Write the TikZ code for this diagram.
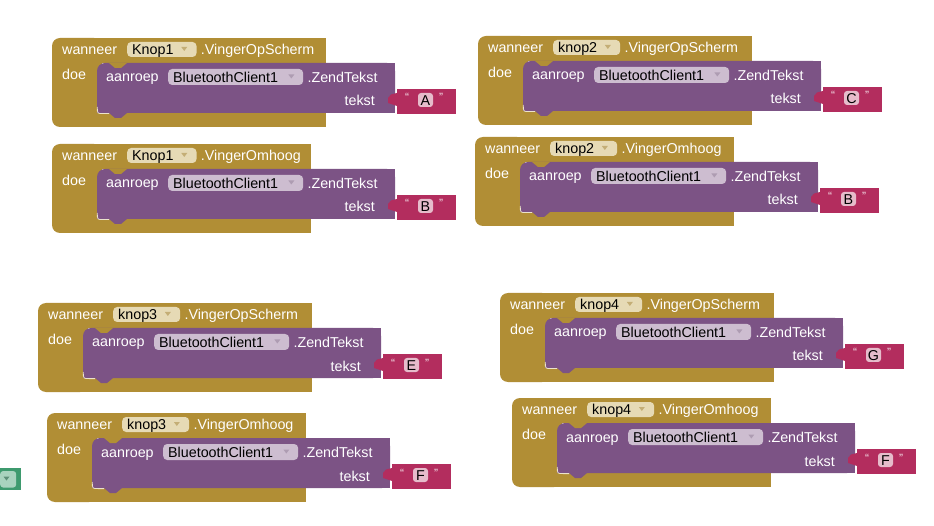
\documentclass[tikz,border=0pt]{standalone}
\usepackage{fontspec}
\setmainfont{Liberation Sans}
\usetikzlibrary{calc}
\definecolor{aigold}{HTML}{B18E35}
\definecolor{aipurple}{HTML}{7C5385}
\definecolor{aired}{HTML}{B32D5E}
\definecolor{ddgold}{HTML}{E6DAB5}
\definecolor{ddpurple}{HTML}{CDBDD0}
\definecolor{arrgold}{HTML}{C4AE76}
\definecolor{arrpurple}{HTML}{AE9CB2}
\definecolor{aipill}{HTML}{E6BCCB}
\definecolor{aigreen}{HTML}{3E9A6E}
\definecolor{ddgreen}{HTML}{A9D3BE}
\definecolor{arrgreen}{HTML}{5E8F78}
\tikzset{
  lbl/.style={text=white, inner sep=0pt, font=\fontsize{14.3}{16}\selectfont},
  ddbox/.style={rounded corners=4pt, inner xsep=5pt, inner ysep=0pt, text height=10.2pt, text depth=0pt, text=black, font=\fontsize{14.3}{16}\selectfont, anchor=west},
  pill/.style={fill=aipill, rounded corners=3pt, minimum width=15pt, minimum height=14pt, inner sep=0pt, text height=10.2pt, text depth=0pt, text=black, font=\fontsize{14.3}{16}\selectfont},
  quotemark/.style={inner sep=0pt, text=white!88!aired, font=\fontsize{12}{14}\selectfont, anchor=base},
  hilite/.style={draw=white!75!aigold, line width=0.8pt}
}
\newcommand\aiblock[7]{%
\begin{scope}[shift={(#2,#3)}]
  % gold event block
  \fill[aigold, rounded corners=8pt] (0,0) rectangle (50,89);
  \fill[aigold] (8,0) rectangle (#4,25);
  \fill[aigold] (8,75) rectangle (#4,89);
  % purple call block
  \fill[aipurple, rounded corners=8pt] (45,25) rectangle (343,75);
  \fill[aipurple] (60,25) rectangle (343,75);
  \fill[aipurple] (45,40) rectangle (60,75);
  \fill[aipurple] (57,75) -- (63,80) -- (69,80) -- (75,75) -- cycle;
  \fill[aigold] (57,25) -- (63,30) -- (69,30) -- (75,25) -- cycle;
  \draw[hilite] (45.3,69) .. controls (45.3,75.6) .. (51,75.6) -- (57,75.6);
  % red text block
  \fill[aired] (345,51) rectangle (404,76);
  \fill[aired] (345,55) -- (339,56.5) -- (336,60) -- (336,65) -- (345,68) -- cycle;
  % texts
  \node[lbl, anchor=base west] (#1w) at (10,16.6) {wanneer};
  \node[ddbox, fill=ddgold, minimum height=15pt] (#1dd) at (75,11.5) {#5\rule{18pt}{0pt}};
  \fill[arrgold] ($(#1dd.east)+(-15.5,-2.5)$) -- ++(6,0) -- ++(-3,4) -- cycle;
  \node[lbl, anchor=base west, xshift=4pt] (#1e) at (#1dd.base east) {.#6};
  \node[lbl, anchor=base west] (#1d) at (10,41.5) {doe};
  \node[lbl, anchor=base west] (#1a) at (54,44) {aanroep};
  \node[ddbox, fill=ddpurple, minimum height=16pt] (#1bt) at (116,39) {BluetoothClient1\rule{20pt}{0pt}};
  \fill[arrpurple] ($(#1bt.east)+(-15,-2.5)$) -- ++(6,0) -- ++(-3,4) -- cycle;
  \node[lbl, anchor=base west, xshift=4pt] (#1z) at (#1bt.base east) {.ZendTekst};
  \node[lbl, anchor=base east] (#1t) at (323,68) {tekst};
  \node[pill] (#1s) at (373.5,62) {#7};
  \node[quotemark] (#1q) at (355,64) {“};
  \node[quotemark] (#1r) at (389,64) {”};
\end{scope}}
\begin{document}
\begin{tikzpicture}[x=1pt,y=-1pt]
  \useasboundingbox (0,0) rectangle (934,526);
  \fill[white] (0,0) rectangle (934,526);
  % green fragment at left edge
  \fill[aigreen] (0,468) rectangle (21,490);
  \node[fill=ddgreen, rounded corners=3pt, minimum width=16pt, minimum height=16.5pt, inner sep=0pt, anchor=west] (gdd) at (0,479.3) {};
  \fill[arrgreen] (3.5,476.5) -- ++(6,0) -- ++(-3,4) -- cycle;
  \aiblock{b1}{52}{38}{274}{Knop1}{VingerOpScherm}{A}
  \aiblock{b2}{478}{36}{274}{knop2}{VingerOpScherm}{C}
  \aiblock{b3}{52}{144}{259}{Knop1}{VingerOmhoog}{B}
  \aiblock{b4}{475}{137}{259}{knop2}{VingerOmhoog}{B}
  \aiblock{b5}{38}{303}{274}{knop3}{VingerOpScherm}{E}
  \aiblock{b6}{47}{413}{259}{knop3}{VingerOmhoog}{F}
  \aiblock{b7}{500}{293}{274}{knop4}{VingerOpScherm}{G}
  \aiblock{b8}{512}{398}{259}{knop4}{VingerOmhoog}{F}
\end{tikzpicture}
\end{document}
